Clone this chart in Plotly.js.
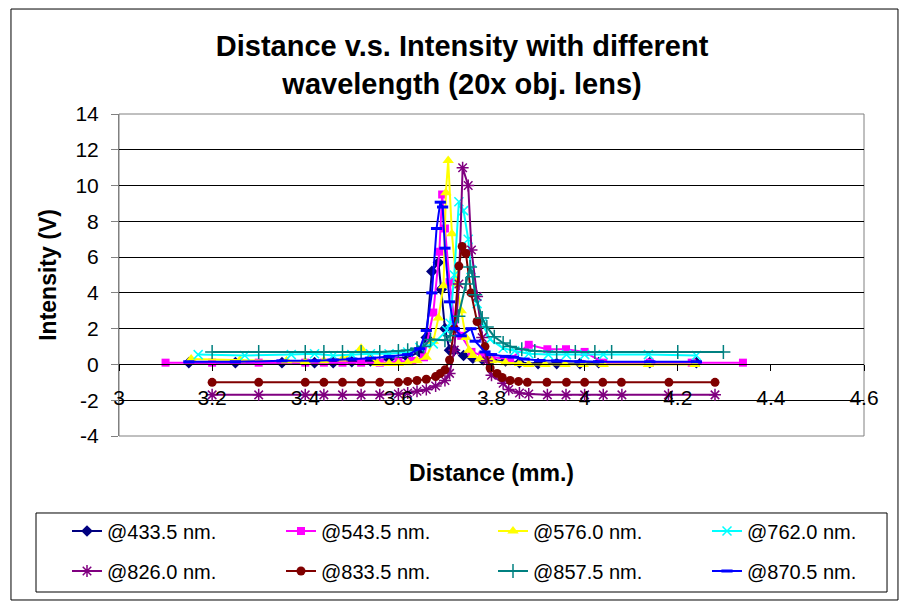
<!DOCTYPE html>
<html>
<head>
<meta charset="utf-8">
<script src="https://cdn.plot.ly/plotly-3.0.1.min.js"></script>
<style>html,body{margin:0;padding:0;background:#fff;}#chart{width:906px;height:604px;}</style>
</head>
<body>
<div id="chart"></div>
<script>
// ---- Data ----
var seriesNames = ['@433.5 nm.', '@543.5 nm.', '@576.0 nm.', '@762.0 nm.', '@826.0 nm.', '@833.5 nm.', '@857.5 nm.', '@870.5 nm.'];

var x433 = [3.15,3.25,3.35,3.42,3.46,3.5,3.54,3.58,3.62,3.645,3.66,3.672,3.686,3.692,3.70,3.71,3.72,3.74,3.76,3.78,3.80,3.83,3.86,3.90,3.94,3.99,4.03,4.14,4.24];
var y433 = [0.1,0.1,0.1,0.1,0.1,0.15,0.2,0.3,0.4,0.7,1.5,5.2,5.7,4.2,2.0,0.8,0.8,0.5,0.35,0.3,0.25,0.2,0.1,0.05,0.05,0.05,0.1,0.1,0.1];

var x543 = [3.1,3.2,3.3,3.4,3.44,3.48,3.52,3.56,3.6,3.63,3.655,3.675,3.688,3.694,3.70,3.71,3.72,3.735,3.757,3.78,3.80,3.84,3.88,3.92,3.96,4.0,4.04,4.14,4.23,4.34];
var y543 = [0.1,0.1,0.1,0.1,0.1,0.1,0.1,0.1,0.15,0.2,0.4,2.9,6.3,9.5,7.6,4.6,2.5,1.6,0.7,0.5,0.4,0.3,1.1,0.85,0.85,0.7,0.1,0.1,0.1,0.1];

var x576 = [3.155,3.26,3.36,3.4,3.44,3.48,3.52,3.555,3.58,3.6,3.62,3.64,3.66,3.675,3.686,3.697,3.702,3.707,3.715,3.725,3.735,3.745,3.752,3.76,3.775,3.80,3.83,3.86,3.88,3.915,3.958,3.997,4.04,4.137,4.237];
var y576 = [0.3,0.25,0.2,0.15,0.2,0.3,0.9,0.05,0.05,0.05,0.1,0.2,0.4,1.3,2.6,4.4,9.6,11.4,7.3,4.5,3.0,1.5,0.8,0.5,0.3,0.2,0.1,0.05,0.0,0.0,0.0,0.0,0.0,0.0,0.0];

var x762 = [3.17,3.27,3.37,3.42,3.46,3.5,3.54,3.58,3.62,3.646,3.675,3.704,3.711,3.72,3.73,3.74,3.75,3.756,3.769,3.78,3.797,3.825,3.85,3.88,3.922,3.961,4.0,4.04,4.137,4.24];
var y762 = [0.55,0.5,0.55,0.6,0.5,0.55,0.6,0.6,0.7,0.95,1.15,1.9,2.3,5.0,9.1,8.6,7.0,5.3,3.4,2.3,1.4,0.9,0.75,0.6,0.55,0.55,0.55,0.55,0.55,0.5];

var x826 = [3.2,3.3,3.4,3.44,3.48,3.52,3.56,3.6,3.62,3.64,3.66,3.68,3.70,3.71,3.72,3.73,3.738,3.75,3.757,3.769,3.78,3.79,3.80,3.825,3.837,3.86,3.88,3.92,3.96,4.0,4.04,4.08,4.18,4.28];
var y826 = [-1.7,-1.7,-1.7,-1.7,-1.7,-1.7,-1.7,-1.65,-1.6,-1.5,-1.4,-1.2,-0.9,-0.5,0.8,4.5,11.0,10.0,6.4,3.8,1.5,0.2,-0.6,-1.05,-1.4,-1.6,-1.65,-1.7,-1.7,-1.7,-1.7,-1.7,-1.7,-1.7];

var x833 = [3.2,3.3,3.4,3.44,3.48,3.52,3.56,3.6,3.62,3.64,3.66,3.68,3.69,3.70,3.71,3.72,3.73,3.737,3.745,3.756,3.769,3.786,3.797,3.812,3.823,3.84,3.858,3.877,3.919,3.961,4.0,4.039,4.079,4.181,4.28];
var y833 = [-1.0,-1.0,-1.0,-1.0,-1.0,-1.0,-1.0,-1.0,-0.95,-0.9,-0.83,-0.68,-0.5,-0.3,0.25,2.0,5.5,6.6,6.2,4.0,2.4,1.0,-0.2,-0.5,-0.73,-0.9,-0.95,-1.0,-1.0,-1.0,-1.0,-1.0,-1.0,-1.0,-1.0];

var x857 = [3.2,3.3,3.4,3.44,3.48,3.52,3.56,3.6,3.62,3.64,3.654,3.669,3.70,3.711,3.729,3.745,3.754,3.76,3.765,3.78,3.79,3.806,3.825,3.84,3.865,3.893,3.94,3.98,4.022,4.058,4.2,4.298];
var y857 = [0.7,0.7,0.7,0.7,0.7,0.7,0.7,0.75,0.8,0.9,1.0,1.4,1.35,1.6,2.7,4.5,5.45,4.9,3.9,2.6,2.1,1.55,1.2,1.0,0.85,0.75,0.7,0.7,0.7,0.7,0.7,0.7];

var x870 = [3.15,3.25,3.35,3.42,3.46,3.5,3.54,3.58,3.62,3.646,3.66,3.672,3.682,3.69,3.695,3.70,3.71,3.72,3.735,3.756,3.765,3.786,3.80,3.83,3.847,3.87,3.904,3.94,3.99,4.03,4.14,4.24];
var y870 = [0.15,0.15,0.2,0.2,0.25,0.3,0.35,0.45,0.55,0.88,1.9,4.0,7.6,9.07,8.8,6.5,3.5,2.0,1.6,2.0,1.3,0.7,0.55,0.45,0.41,0.3,0.22,0.2,0.15,0.15,0.15,0.15];

var xTickVals = [3, 3.2, 3.4, 3.6, 3.8, 4, 4.2, 4.4, 4.6];
var xTickText = ['3', '3.2', '3.4', '3.6', '3.8', '4', '4.2', '4.4', '4.6'];
var yTickVals = [-4, -2, 0, 2, 4, 6, 8, 10, 12, 14];
var yTickText = ['-4', '-2', '0', '2', '4', '6', '8', '10', '12', '14'];

// ---- Styles ----
var colors = ['#000080', '#FF00FF', '#FFFF00', '#00FFFF', '#800080', '#800000', '#008080', '#0000FF'];
var symbols = ['diamond', 'square', 'triangle-up', 'x-thin-open', 'asterisk-open', 'circle', 'cross-thin-open', 'line-ew-open'];
var sizes = [9, 8, 10, 9, 10, 9, 10, 8];
var mlw = [0, 0, 0, 1.5, 1.5, 0, 1.5, 3];
var legendIds = ['legend', 'legend', 'legend2', 'legend2', 'legend3', 'legend3', 'legend4', 'legend4'];
var xs = [x433, x543, x576, x762, x826, x833, x857, x870];
var ys = [y433, y543, y576, y762, y826, y833, y857, y870];

var traces = [];
for (var i = 0; i < 8; i++) {
  traces.push({
    type: 'scatter', mode: 'lines+markers',
    name: seriesNames[i], x: xs[i], y: ys[i],
    line: {color: colors[i], width: 2},
    marker: {symbol: symbols[i], size: sizes[i], color: colors[i], line: {color: colors[i], width: mlw[i]}},
    legend: legendIds[i],
    showlegend: true
  });
}

var FONT = 'Liberation Sans, Arial, sans-serif';
function legendAt(px, py) {
  return {
    orientation: 'h', xanchor: 'left', x: (px - 119) / 745, yanchor: 'middle', y: (436 - py) / 322,
    entrywidth: 169, entrywidthmode: 'pixels',
    font: {family: FONT, size: 20, color: '#000'},
    bgcolor: 'rgba(0,0,0,0)', borderwidth: 0
  };
}

var layout = {
  width: 906, height: 604,
  margin: {l: 119, r: 42, t: 114, b: 168, autoexpand: false},
  paper_bgcolor: '#fff', plot_bgcolor: '#fff',
  font: {family: FONT, color: '#000'},
  title: {
    text: 'Distance v.s. Intensity with different<br>wavelength (20x obj. lens)',
    font: {family: FONT, size: 29, weight: 'bold', color: '#000'},
    xref: 'container', x: 0.51, xanchor: 'center',
    yref: 'container', y: 0.907, yanchor: 'middle'
  },
  xaxis: {
    range: [3, 4.6], tickmode: 'array', tickvals: xTickVals, ticktext: xTickText,
    anchor: 'free', position: 0.2236,
    showline: true, linecolor: '#000', linewidth: 1,
    ticks: 'outside', ticklen: 6, tickcolor: '#000',
    showgrid: false, zeroline: false,
    ticklabelstandoff: 9,
    tickfont: {family: FONT, size: 21, color: '#000'},
    title: {text: 'Distance (mm.)', font: {family: FONT, size: 23, weight: 'bold', color: '#000'}, standoff: 56}
  },
  yaxis: {
    range: [-4, 14], tickmode: 'array', tickvals: yTickVals, ticktext: yTickText,
    showline: true, linecolor: '#808080', linewidth: 1,
    ticks: 'outside', ticklen: 7, tickcolor: '#808080',
    showgrid: true, gridcolor: '#000', gridwidth: 1, zeroline: false,
    ticklabelstandoff: 8,
    tickfont: {family: FONT, size: 21, color: '#000'},
    title: {text: 'Intensity (V)', font: {family: FONT, size: 23, weight: 'bold', color: '#000'}, standoff: 12}
  },
  legend: legendAt(67, 531),
  legend2: legendAt(493, 531),
  legend3: legendAt(67, 571),
  legend4: legendAt(493, 571),
  shapes: [
    {type: 'rect', xref: 'paper', yref: 'paper', x0: 0, x1: 1, y0: 0, y1: 1, line: {color: '#808080', width: 1}, layer: 'below'},
    {type: 'rect', xref: 'paper', yref: 'paper', x0: -0.1114, x1: 1.0309, y0: -0.4845, y1: -0.2391, line: {color: '#000', width: 1}},
    {type: 'rect', xref: 'paper', yref: 'paper', x0: -0.145, x1: 1.0456, y0: -0.5093, y1: 1.326, line: {color: '#000', width: 1}}
  ]
};

Plotly.newPlot('chart', traces, layout, {displayModeBar: false, staticPlot: true});
</script>
</body>
</html>
